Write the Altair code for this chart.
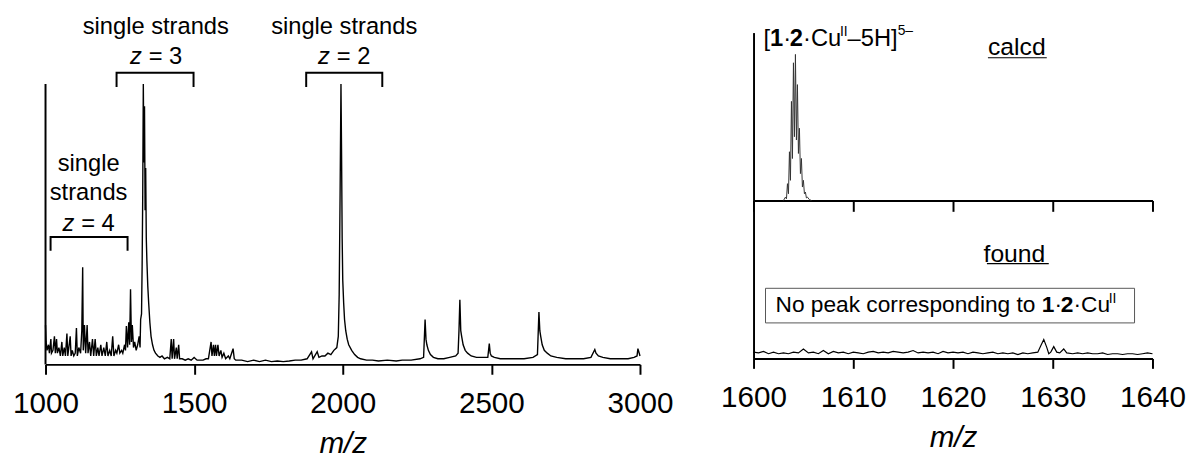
import altair as alt
import pandas as pd

FONT = "Liberation Sans"
NB = "\u00a0"

# ---------------- data: full spectrum (left) ----------------
left_mz = [1000, 1002, 1005, 1010, 1013, 1018, 1020, 1025, 1030, 1033, 1037, 1040, 1045, 1050,
           1055, 1058, 1063, 1067, 1072, 1075, 1083, 1086, 1090, 1095, 1100, 1104, 1107, 1112,
           1118, 1122, 1125, 1127, 1131, 1135, 1140, 1143, 1148, 1152, 1158, 1162, 1167, 1171,
           1176, 1180, 1186, 1190, 1196, 1201, 1206, 1210, 1216, 1221, 1226, 1230, 1236, 1240,
           1246, 1250, 1256, 1260, 1266, 1269, 1272, 1276, 1280, 1283, 1286, 1289, 1292, 1296,
           1300, 1305, 1310, 1315, 1318, 1320, 1323, 1325, 1327, 1329, 1331, 1333, 1335, 1337,
           1339, 1341, 1344, 1347, 1351, 1355, 1360, 1365, 1370, 1378, 1385, 1392, 1400, 1410,
           1418, 1423, 1426, 1431, 1434, 1440, 1443, 1448, 1451, 1460, 1470, 1480, 1490, 1500,
           1510, 1520, 1530, 1540, 1548, 1557, 1560, 1565, 1568, 1572, 1575, 1580, 1584, 1590,
           1594, 1600, 1606, 1615, 1620, 1631, 1635, 1640, 1660, 1680, 1700, 1720, 1740, 1760,
           1780, 1800, 1820, 1840, 1860, 1880, 1895, 1900, 1914, 1920, 1930, 1940, 1950, 1960,
           1970, 1980, 1985, 1988, 1991, 1994, 1996, 1998, 2000, 2003, 2006, 2010, 2015, 2020,
           2030, 2040, 2050, 2060, 2080, 2100, 2120, 2150, 2180, 2200, 2230, 2260, 2272, 2277,
           2280, 2283, 2288, 2295, 2305, 2320, 2340, 2360, 2380, 2388, 2391, 2394, 2397, 2400,
           2405, 2412, 2420, 2432, 2450, 2470, 2488, 2493, 2496, 2500, 2510, 2530, 2550, 2580,
           2610, 2640, 2655, 2660, 2663, 2666, 2671, 2678, 2688, 2700, 2720, 2750, 2780, 2810,
           2835, 2848, 2852, 2860, 2875, 2900, 2930, 2960, 2980, 2990, 2993, 2996, 3000]
left_int = [14, 8, 5, 7, 4, 9, 4, 5, 10, 4, 9, 4, 6, 3,
            8, 3, 6, 3, 11, 3, 10, 3, 5, 3, 4, 13, 3, 6,
            4, 12, 34.6, 5, 14, 4, 14, 4, 8, 3, 9, 3, 9, 3,
            6, 3, 7, 3, 6, 3, 8, 3, 5, 3, 10, 3, 5, 4,
            7, 4, 5, 4, 7, 5, 13.7, 6, 15, 7, 26.8, 8, 14, 6,
            8, 5, 7, 10, 6, 16, 18, 35, 60, 100, 72, 92, 55, 70,
            45, 37, 28, 22, 15, 10, 7, 5, 4, 3, 2.5, 3, 2, 2.5,
            2, 9, 2, 9, 2, 6, 2, 7, 2, 2, 1.5, 2, 1.5, 2.5,
            1.5, 1.5, 1.5, 2, 2, 8, 3, 7, 3, 7, 3, 7, 3, 5,
            2.5, 4, 2, 3, 2, 5.6, 2, 1.5, 1.5, 1, 1.5, 1, 1.5, 1,
            1.2, 1, 1.2, 1.5, 1.5, 2, 4.5, 2, 4.5, 2.5, 3, 3, 4, 3.5,
            5, 6, 10, 25, 60, 100, 75, 45, 30, 22, 16, 12, 9, 7,
            5, 3.5, 2.5, 2, 1.5, 1.5, 1.2, 1.5, 1.2, 1.5, 1.5, 2, 2.5, 16,
            9, 7, 5, 3.5, 2.5, 2, 2, 2.5, 3, 4, 12, 23, 12, 10,
            7, 5, 4, 3, 2.5, 2.5, 2.5, 7.4, 4, 3, 2.5, 2, 2, 2,
            2, 2.5, 3.5, 18.7, 12, 10, 7, 5, 4, 3, 2.5, 2, 2, 2,
            2.5, 5.3, 4, 3, 2.5, 2, 2, 2, 2.5, 3, 5.6, 4.5, 3]

# ---------------- data: calculated isotope pattern ----------------
calc_mz = [1603.0, 1603.2, 1603.3, 1603.4, 1603.5, 1603.6, 1603.7, 1603.8, 1603.9, 1604.0,
           1604.1, 1604.2, 1604.3, 1604.4, 1604.5, 1604.6, 1604.7, 1604.8, 1604.9, 1605.0,
           1605.1, 1605.2, 1605.3, 1605.4, 1605.6, 1605.8]
calc_int = [0, 2, 1, 10, 4, 29, 12, 59, 25, 82,
            38, 87, 36, 69, 28, 43, 16, 25, 8, 12,
            4, 5, 1.5, 2, 0.5, 0]

# ---------------- data: found spectrum ----------------
found_mz = [1600, 1600.5, 1601, 1601.5, 1602, 1602.5, 1603, 1603.5, 1604, 1604.5, 1605, 1605.5,
            1606, 1606.5, 1607, 1607.5, 1608, 1608.5, 1609, 1609.5, 1610, 1610.5, 1611, 1611.5,
            1612, 1612.5, 1613, 1613.5, 1614, 1614.5, 1615, 1615.5, 1616, 1616.5, 1617, 1617.5,
            1618, 1618.5, 1619, 1619.5, 1620, 1620.5, 1621, 1621.5, 1622, 1622.5, 1623, 1623.5,
            1624, 1624.5, 1625, 1625.5, 1626, 1626.5, 1627, 1627.5, 1628, 1628.5, 1628.8, 1629.1,
            1629.4, 1629.6, 1629.8, 1630.1, 1630.4, 1630.7, 1631.1, 1631.4, 1632, 1632.5, 1633,
            1633.5, 1634, 1634.5, 1635, 1635.5, 1636, 1636.5, 1637, 1637.5, 1638, 1638.5, 1639,
            1639.5, 1640]
found_int = [4, 3.5, 4.5, 3, 4, 3, 3.5, 3, 4, 3.5, 6, 3.5,
             4, 3, 5, 3, 4.5, 3.5, 4, 3, 4, 3.5, 3, 4,
             4.5, 3.5, 4, 3.5, 4.5, 4, 3.5, 4, 5, 3.5, 4, 3.5,
             4, 3, 4.5, 3.5, 4, 3.5, 4, 3, 4, 3.5, 3, 3.5,
             4, 3, 3.5, 3, 3.5, 2.5, 3.5, 3, 3.5, 4, 8, 12,
             7, 3, 4, 7.5, 4, 3.5, 6, 3.5, 3, 3.5, 3,
             3.5, 3, 3, 3.5, 2.5, 3, 3, 2.5, 3, 3, 2.5, 3,
             3.5, 3]

# ---------------- annotation values ----------------
left_ticks = [1000, 1500, 2000, 2500, 3000]
right_ticks = [1600, 1610, 1620, 1630, 1640]
bracket_start = [1239, 1877, 1017]
bracket_end = [1498, 2133, 1276]
bracket_top = [104.0, 104.0, 45.4]
bracket_leg = [98.9, 98.9, 40.5]

# ---------------- helpers ----------------
WIDTH = {" ": 278, NB: 278, "[": 278, "]": 278, "·": 278, "C": 722, "u": 556, "I": 278,
         "–": 556, "H": 722, "N": 722, "o": 556, "p": 556, "e": 556, "a": 556, "k": 500,
         "c": 500, "r": 333, "s": 500, "n": 556, "d": 556, "i": 222, "g": 556, "t": 278,
         "z": 500, "=": 584, "l": 222}


def tw(s, size):
    return sum(WIDTH.get(ch, 556) for ch in s) * size / 1000.0


ONE = pd.DataFrame({"k": [0]})


def rich(pieces, x, y, anchor="center"):
    # piece: (text, size, weight, style, rise, gap_before)
    pieces = [p if len(p) == 6 else tuple(p) + (0,) for p in pieces]
    total = sum(tw(p[0], p[1]) + p[5] for p in pieces)
    off = -total / 2 if anchor == "center" else 0
    layers = []
    for text, size, weight, style, rise, gap in pieces:
        off += gap
        layers.append(
            alt.Chart(ONE).mark_text(text=text, fontSize=size, fontWeight=weight, fontStyle=style,
                                     font=FONT, align="left", baseline="middle", dx=off,
                                     dy=-rise, color="black")
            .encode(x=alt.datum(x), y=alt.datum(y))
        )
        off += tw(text, size)
    return layers


def plain(t, size=24):
    return (t, size, "normal", "normal", 0)


def zeq(n):
    return [("z", 24, "normal", "italic", 0, 0), ("=" + NB + n, 24, "normal", "normal", 0, 7)]


# ---------------- left chart ----------------
LW, LH = 602, 336
LYMAX = 118.3
lx = alt.X("mz:Q", scale=alt.Scale(domain=[1000, 3000], nice=False),
           axis=alt.Axis(values=left_ticks, title="m/z", format="d"))
ly = alt.Y("i:Q", scale=alt.Scale(domain=[0, LYMAX], nice=False), axis=None)

left_df = pd.DataFrame({"mz": left_mz, "i": left_int})
spec_line = alt.Chart(left_df).mark_line(color="black", strokeWidth=1.4).encode(x=lx, y=ly)

yaxis_rule = alt.Chart(ONE).mark_rule(color="black", strokeWidth=2).encode(
    x=alt.value(0), y=alt.datum(0), y2=alt.datum(100))

br_rows = []
for b, (s, e, t, l) in enumerate(zip(bracket_start, bracket_end, bracket_top, bracket_leg)):
    br_rows += [{"b": b, "o": 0, "mz": s, "i": l}, {"b": b, "o": 1, "mz": s, "i": t},
                {"b": b, "o": 2, "mz": e, "i": t}, {"b": b, "o": 3, "mz": e, "i": l}]
brackets = alt.Chart(pd.DataFrame(br_rows)).mark_line(color="black", strokeWidth=2).encode(
    x="mz:Q", y="i:Q", detail="b:N", order="o:Q")

ann = []
ann += rich([plain("single strands")], 1371, 120.4)
ann += rich(zeq("3"), 1372, 109.5)
ann += rich([plain("single strands")], 2005, 120.4)
ann += rich(zeq("2"), 2005, 109.5)
ann += rich([plain("single")], 1145, 71.5)
ann += rich([plain("strands")], 1145, 60.9)
ann += rich(zeq("4"), 1145, 50.2)

left = alt.layer(spec_line, yaxis_rule, brackets, *ann).properties(width=LW, height=LH)

# ---------------- right top (calcd) ----------------
RW = 404
rx_top = alt.X("mz:Q", scale=alt.Scale(domain=[1600, 1640], nice=False),
               axis=alt.Axis(values=right_ticks, labels=False, title=None, tickSize=11))
ry_axis = alt.Axis(domain=True, ticks=False, labels=False, title=None, grid=False)
ry = alt.Y("i:Q", scale=alt.Scale(domain=[0, 100], nice=False), axis=ry_axis)

calc_df = pd.DataFrame({"mz": calc_mz, "i": calc_int})
calc_line = alt.Chart(calc_df).mark_line(color="#333333", strokeWidth=1).encode(x=rx_top, y=ry)

top_label = rich([plain("[", 24), ("1", 24, "bold", "normal", 0), plain("·", 24),
                  ("2", 24, "bold", "normal", 0), plain("·Cu", 24), ("II", 14, "normal", "normal", 7),
                  plain("–5H]", 24), ("5–", 14, "normal", "normal", 8)], 1601.0, 96.0, anchor="left")
calcd_txt = rich([plain("calcd", 25)], 1626.4, 91.5)
calcd_ul = alt.Chart(ONE).mark_rule(color="black", strokeWidth=1.2).encode(
    x=alt.datum(1623.5), x2=alt.datum(1629.4), y=alt.datum(85.0))

right_top = alt.layer(calc_line, *top_label, *calcd_txt, calcd_ul).properties(width=RW, height=170)

# ---------------- right bottom (found) ----------------
rx_bot = alt.X("mz:Q", scale=alt.Scale(domain=[1600, 1640], nice=False),
               axis=alt.Axis(values=right_ticks, title="m/z", format="d", tickSize=10))
found_df = pd.DataFrame({"mz": found_mz, "i": found_int})
found_line = alt.Chart(found_df).mark_line(color="black", strokeWidth=1.2).encode(x=rx_bot, y=ry)

box = alt.Chart(ONE).mark_rect(fillOpacity=0, stroke="#555555", strokeWidth=1).encode(
    x=alt.datum(1601.2), x2=alt.datum(1638.2), y=alt.datum(22.5), y2=alt.datum(44.4))
box_txt = rich([plain("No peak corresponding to" + NB, 23), ("1", 23, "bold", "normal", 0),
                plain("·", 23), ("2", 23, "bold", "normal", 0), plain("·Cu", 23),
                ("II", 14, "normal", "normal", 7)], 1602.2, 33.5, anchor="left")
found_txt = rich([plain("found", 25)], 1626.5, 66.0)
found_ul = alt.Chart(ONE).mark_rule(color="black", strokeWidth=1.2).encode(
    x=alt.datum(1623.4), x2=alt.datum(1629.6), y=alt.datum(60.0))

right_bot = alt.layer(found_line, box, *box_txt, *found_txt, found_ul).properties(width=RW, height=160)

right = alt.vconcat(right_top, right_bot, spacing=0, bounds="flush")

chart = alt.hconcat(left, right, spacing=115, bounds="flush").configure_view(
    stroke=None
).configure_axis(
    domainColor="black", domainWidth=2, tickColor="black", tickWidth=2, tickSize=10,
    labelFont=FONT, labelFontSize=30, labelColor="black", labelPadding=15,
    titleFont=FONT, titleFontSize=30, titleFontStyle="italic", titleFontWeight="normal",
    titleColor="black", titlePadding=10, grid=False, labelFlush=False
).properties(padding={"left": 4, "top": 4, "right": 5, "bottom": 5})

chart.save("out.html", embed_options={"renderer": "svg", "actions": False})
